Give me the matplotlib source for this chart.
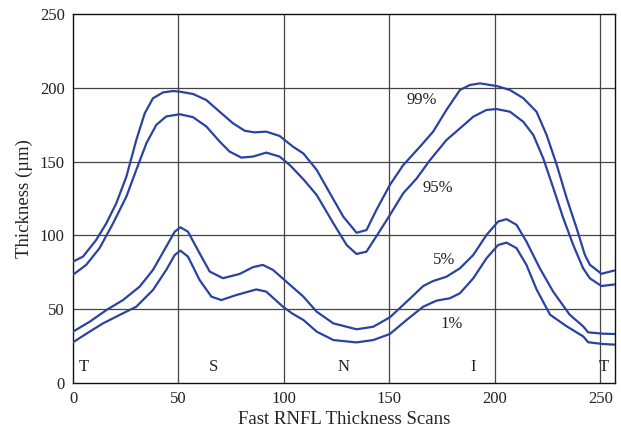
import numpy as np
import matplotlib
matplotlib.use('Agg')
import matplotlib.pyplot as plt

plt.rcParams['font.family'] = ['Liberation Serif', 'DejaVu Serif']

# percentile curves (scan index, thickness in um)
x99 = [0, 4.7, 11, 15.8, 20.5, 25.3, 30, 34, 37.9, 42.7, 47.4, 50.6, 56.9, 63.2, 69.5, 75.8, 81.4, 86.1,
       91.6, 97.9, 104.3, 109.2, 115.5, 121.8, 128.1, 134.4, 139.1, 143.8, 150.2, 156.5, 164.4, 170.7, 177,
       183.4, 188.1, 192.9, 200.8, 207.1, 213.4, 219.7, 224.5, 229.3, 234, 238.7, 242.6, 245, 250.5, 256.8]
y99 = [82.2, 85.6, 96.9, 108.2, 121.7, 139.8, 164.6, 182.7, 192.9, 196.9, 197.8, 197.4, 195.8, 191.7, 183.8, 176, 170.9, 169.8,
       170.3, 167.4, 160.1, 155.5, 144.4, 128.5, 112.7, 101.8, 103.6, 117.2, 134.2, 147.6, 160, 170.3, 185,
       198.5, 201.9, 203, 201.2, 198.5, 193, 183.8, 168, 147.7, 125.2, 104.9, 86.9, 80.1, 74, 76.3]

x95 = [0, 6.3, 12.6, 19, 25.3, 30, 34.8, 39.5, 44.2, 50.6, 56.9, 63.2, 69.5, 74.2, 79.8, 85.3, 91.6, 97.9,
       102.8, 109.2, 115.5, 123.4, 129.7, 134.4, 139.1, 144.7, 150.2, 156.5, 162.9, 169.2, 177, 183.4, 189.7,
       196, 200.8, 207.1, 213.4, 218.2, 222.9, 227.7, 232.4, 237.1, 241.8, 245, 250.5, 256.8]
y95 = [73.3, 80.1, 91.4, 108.2, 126.3, 144.4, 162.5, 174.9, 180.6, 182.1, 180.1, 173.8, 163.6, 156.8, 152.7, 153.4, 156.1, 153.4,
       147.6, 138, 127.4, 108.2, 93.5, 87.4, 89, 101.4, 113.8, 128.5, 138.6, 151, 164.6, 172.5, 180.4,
       185, 185.6, 183.8, 177, 168, 152.2, 131.9, 111.6, 93.5, 77.7, 70.9, 65.7, 66.8]

x5 = [0, 7.9, 15.8, 23.7, 31.6, 37.9, 44.2, 48.2, 50.9, 54.5, 60, 64.8, 71.1, 79, 85.3, 90, 94.8, 101.1,
      109.2, 115.5, 123.4, 134.4, 142.3, 150.2, 158.1, 166, 170.7, 177, 183.4, 189.7, 196, 201.5, 205.5,
      210.2, 214.9, 221.2, 227.5, 235.4, 241.8, 244.2, 251.3, 256.8]
y5 = [34.8, 41.5, 49.4, 56.2, 65.3, 76.6, 92.4, 102.5, 105.5, 102.5, 87.9, 75.5, 71, 73.9, 78.5, 80, 76.6, 68.7,
      58.5, 48.3, 40.4, 36.4, 38.1, 44.5, 55, 65.7, 69.1, 72, 77.7, 86.7, 100.3, 109.4, 111,
      107.2, 95.9, 77.9, 62.1, 46.3, 38.4, 34.3, 33.4, 33.2]

x1 = [0, 7.9, 14.2, 22.1, 30, 37.9, 44.2, 48.2, 50.9, 54.5, 60, 65.6, 70.3, 77.4, 86.9, 91.6, 99.5, 104,
      109.2, 115.5, 123.4, 134.4, 142.3, 150.2, 158.1, 166, 172.3, 178.6, 183.4, 189.7, 196, 201.5, 205.5,
      210.2, 214.9, 219.7, 226.1, 234, 241.8, 244.2, 251.3, 256.8]
y1 = [27.6, 34.8, 40.4, 46.1, 51.7, 63, 76.6, 86.7, 89.7, 85.6, 69.8, 58.5, 56.2, 59.6, 63.4, 61.9, 51.7, 47,
      42.7, 34.8, 29.1, 27.5, 29.1, 33.2, 42.7, 51.7, 55.8, 57.4, 60.8, 70.9, 84.5, 93.5, 95.1,
      91.4, 80.1, 63.5, 46.3, 38.4, 31.6, 27.6, 26.4, 26]

pct_labels = ['99%', '95%', '5%', '1%']
pct_pos = [(165.4, 191.7), (173, 132), (176, 83), (179.6, 40)]
quad_labels = ['T', 'S', 'N', 'I', 'T']
quad_x = [5.2, 66.4, 128.4, 189.6, 251.7]

fig = plt.figure(figsize=(6.21, 4.34), dpi=100)
ax = fig.add_axes([73 / 621, 51 / 434, 542 / 621, 369 / 434])

blue = '#2a43a0'
for xs, ys in [(x99, y99), (x95, y95), (x5, y5), (x1, y1)]:
    ax.plot(xs, ys, color=blue, lw=1.6, solid_joinstyle='round', solid_capstyle='round', zorder=3)

for gx in [50, 100, 150, 200, 250]:
    ax.axvline(gx, color='#444444', lw=0.9, zorder=1)
for gy in [50, 100, 150, 200]:
    ax.axhline(gy, color='#444444', lw=0.9, zorder=1)

for lab, (px, py) in zip(pct_labels, pct_pos):
    ax.text(px, py, lab, ha='center', va='center', fontsize=12, color='#222222')
for lab, qx in zip(quad_labels, quad_x):
    ax.text(qx, 10.8, lab, ha='center', va='center', fontsize=12, color='#222222')

ax.set_xlim(0, 256.9)
ax.set_ylim(0, 250)
ax.set_xticks([0, 50, 100, 150, 200, 250])
ax.set_yticks([0, 50, 100, 150, 200, 250])
ax.tick_params(length=0, labelsize=12, colors='#222222', pad=6)
for s in ax.spines.values():
    s.set_color('#111111')
    s.set_linewidth(1.0)
ax.set_xlabel('Fast RNFL Thickness Scans', fontsize=13.5, color='#222222', labelpad=3)
ax.set_ylabel('Thickness (\u00b5m)', fontsize=13.5, color='#222222', labelpad=5)

fig.savefig('out.png', dpi=100)
